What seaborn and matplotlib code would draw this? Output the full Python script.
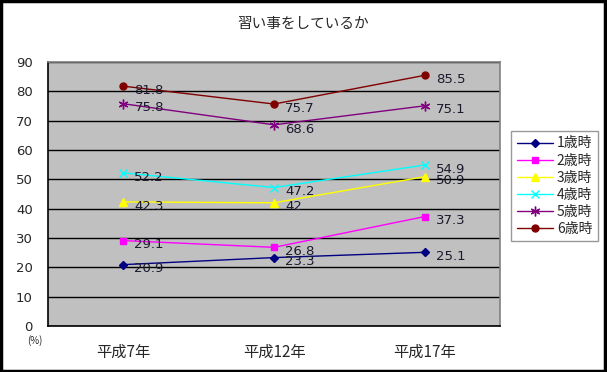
import pandas as pd
import matplotlib.pyplot as plt
import seaborn as sns
from matplotlib.patches import Rectangle

# Data
years = ['平成7年', '平成12年', '平成17年']
ages = ['1歳時', '2歳時', '3歳時', '4歳時', '5歳時', '6歳時']
age1 = [20.9, 23.3, 25.1]
age2 = [29.1, 26.8, 37.3]
age3 = [42.3, 42, 50.9]
age4 = [52.2, 47.2, 54.9]
age5 = [75.8, 68.6, 75.1]
age6 = [81.8, 75.7, 85.5]
y_ticks = [0, 10, 20, 30, 40, 50, 60, 70, 80, 90]

values = [age1, age2, age3, age4, age5, age6]

sns.set_style("white")
plt.rcParams['font.family'] = ['Noto Sans CJK JP', 'DejaVu Sans']

colors = ['#000080', '#FF00FF', '#FFFF00', '#00FFFF', '#800080', '#800000']
markers = ['D', 's', '^', 'x', (6, 2, 0), 'o']
sizes = [4, 5, 6, 6, 7, 5]

fig = plt.figure(figsize=(6.07, 3.72), dpi=100)
ax = fig.add_axes([0.079, 0.124, 0.745, 0.709])
ax.set_facecolor('#C0C0C0')

# one lineplot per series so filled and line-art markers can mix
for age, vals, c, m, ms in zip(ages, values, colors, markers, sizes):
    d = pd.DataFrame({'year': years, 'pct': vals})
    sns.lineplot(data=d, x='year', y='pct', color=c, marker=m, markersize=ms,
                 markeredgecolor=c, markeredgewidth=1, linewidth=1,
                 label=age, ax=ax, sort=False)
    for i, v in enumerate(vals):
        ax.annotate(f"{v:g}", (i, v), textcoords="offset points", xytext=(8, -3),
                    ha='left', va='center', fontsize=9.5, color='#1a1a2e',
                    family=['DejaVu Sans'])

ax.set_xlim(-0.5, 2.5)
ax.set_ylim(0, 90)
ax.set_yticks(y_ticks)
ax.set_yticklabels([str(t) for t in y_ticks], fontsize=9.5, family=['DejaVu Sans'])
ax.set_xticks(range(len(years)))
ax.set_xticklabels(years, fontsize=11)
ax.tick_params(axis='x', length=0, pad=13)
ax.tick_params(axis='y', length=0, pad=11)
ax.set_xticks([0.5, 1.5], minor=True)
ax.tick_params(axis='x', which='minor', length=4, direction='out', color='black')
ax.grid(axis='y', color='black', linewidth=1)
ax.grid(axis='x', visible=False)
ax.set_xlabel('')
ax.set_ylabel('')

ax.spines['left'].set_color('black')
ax.spines['bottom'].set_color('black')
ax.spines['top'].set_color('#808080')
ax.spines['right'].set_color('#808080')
for s in ax.spines.values():
    s.set_linewidth(1.2)

ax.text(-0.03, -0.055, '(%)', transform=ax.transAxes, fontsize=7,
        ha='center', va='center')

fig.suptitle('習い事をしているか', y=0.955, fontsize=10.5)

handles, labels = ax.get_legend_handles_labels()
ax.legend_.remove()
leg = fig.legend(handles, labels, loc='upper left',
                 bbox_to_anchor=(0.842, 0.648), fontsize=10, frameon=True,
                 fancybox=False, edgecolor='#808080', handlelength=2.6,
                 labelspacing=0.22, borderpad=0.4, handletextpad=0.3,
                 borderaxespad=0)
leg.get_frame().set_linewidth(1)

fig.patches.append(Rectangle((0.002, 0.003), 0.995, 0.993, transform=fig.transFigure,
                             fill=False, edgecolor='black', linewidth=2.5))

fig.savefig('out.png', dpi=100)
